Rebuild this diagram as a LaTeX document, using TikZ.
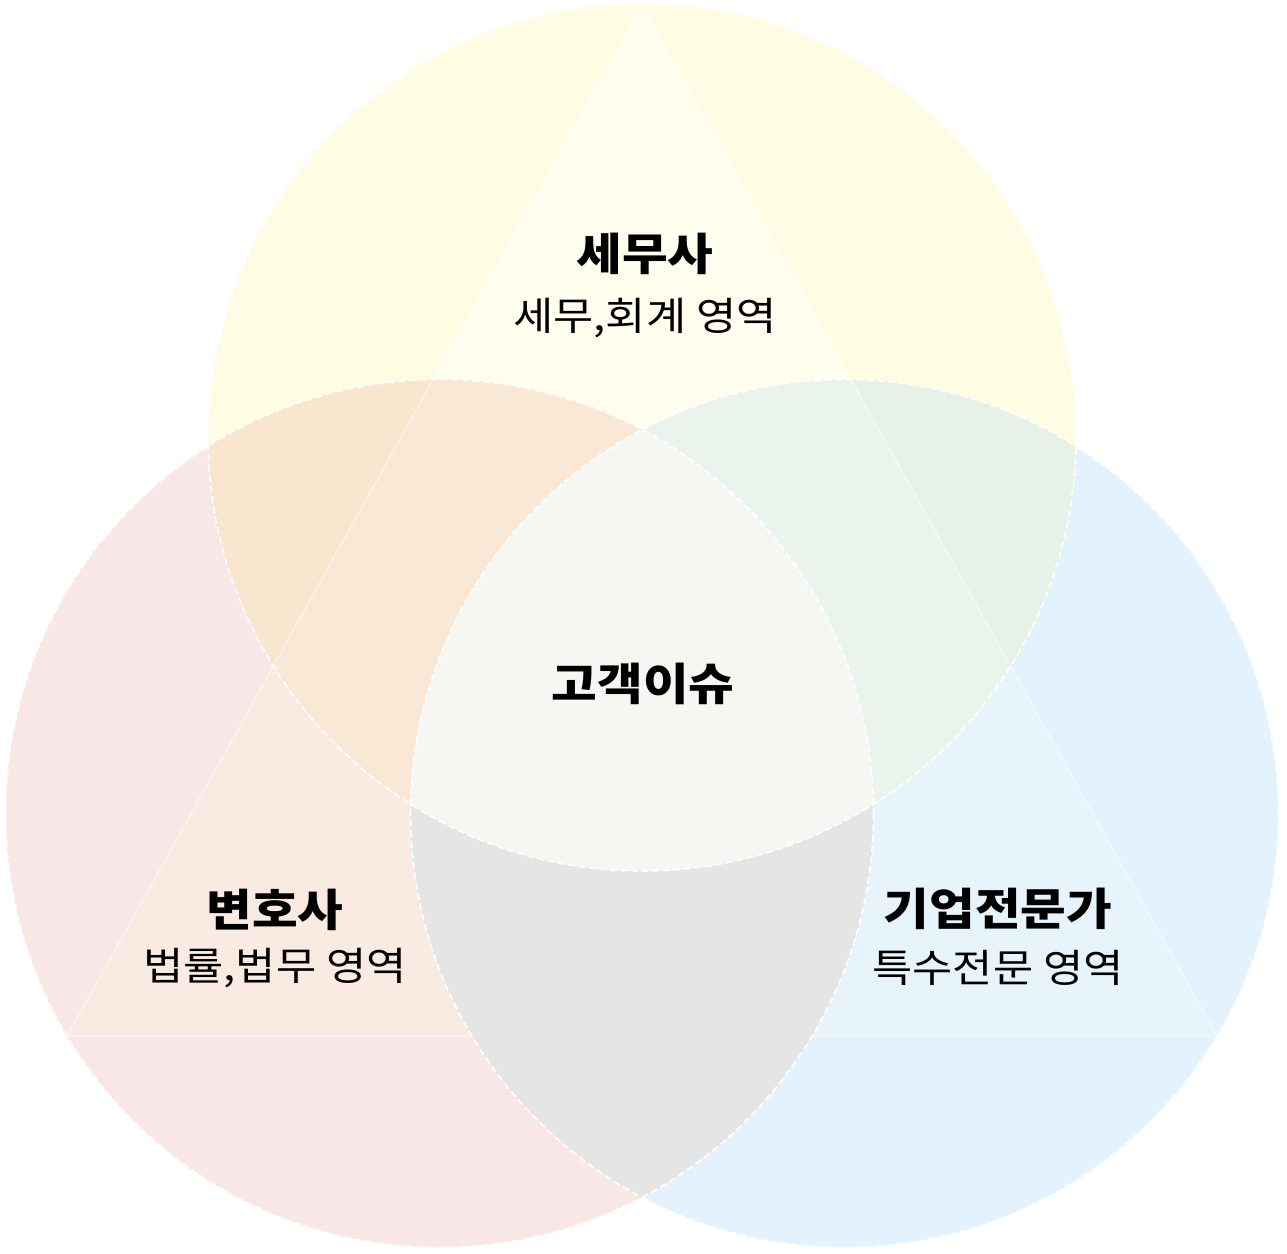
\documentclass[tikz,border=0pt]{standalone}
\usepackage{fontspec}
\setmainfont{Noto Sans CJK KR}[FakeStretch=1.12]
\definecolor{taxcol}{HTML}{FEFCE2}
\definecolor{lawcol}{HTML}{F9E6E6}
\definecolor{bizcol}{HTML}{E3F2FC}
\definecolor{taxlaw}{HTML}{F8E6CF}
\definecolor{taxbiz}{HTML}{E6F2E7}
\definecolor{taxtri}{HTML}{FEFDEE}
\definecolor{lawtri}{HTML}{FAEBE2}
\definecolor{biztri}{HTML}{E8F4FC}
\definecolor{taxlawtri}{HTML}{F9E8D5}
\definecolor{taxbiztri}{HTML}{EAF4EC}
\definecolor{lawbiz}{HTML}{E5E5E5}
\definecolor{corecol}{HTML}{F6F7F2}
\newcommand\venncols[5]{%
    \fill[#1] (T) circle (\rad);
    \fill[#2] (L) circle (\rad);
    \fill[#3] (R) circle (\rad);
    \begin{scope}
        \clip (T) circle (\rad);
        \fill[#4] (L) circle (\rad);
        \fill[#5] (R) circle (\rad);
    \end{scope}}
\tikzset{
  ring/.style={draw=white, line width=0.45pt, dash pattern=on 2pt off 1pt},
  headtext/.style={font=\bfseries\fontsize{12.6}{14}\selectfont, inner sep=0pt},
  areatext/.style={font=\fontsize{11.1}{13}\selectfont, inner sep=0pt}
}
\begin{document}
\begin{tikzpicture}[x=0.01cm,y=-0.01cm]
    \useasboundingbox (0,0) rectangle (1287,1254);
    \def\rad{434}
    \coordinate (T) at (642,437);
    \coordinate (L) at (439.5,813.5);
    \coordinate (R) at (844.5,813.5);
    \coordinate (A) at (642,5);
    \coordinate (B) at (67,1036);
    \coordinate (C) at (1217,1036);
    % three circles
    \venncols{taxcol}{lawcol}{bizcol}{taxlaw}{taxbiz}
    % lighter triangle
    \begin{scope}
        \clip (A) -- (B) -- (C) -- cycle;
        \venncols{taxtri}{lawtri}{biztri}{taxlawtri}{taxbiztri}
    \end{scope}
    \draw[white,opacity=0.6,line width=0.3pt] (A) -- (B) -- (C) -- cycle;
    \begin{scope}
        \clip (L) circle (\rad);
        \fill[lawbiz] (R) circle (\rad);
        \clip (R) circle (\rad);
        \fill[corecol] (T) circle (\rad);
    \end{scope}
    \draw[ring] (T) circle (\rad);
    \draw[ring] (L) circle (\rad);
    \draw[ring] (R) circle (\rad);
    % labels
    \node[headtext] (tax) at (645,254) {세무사};
    \node[areatext] (taxarea) at (645,318) {세무,회계 영역};
    \node[headtext] (core) at (643,684) {고객이슈};
    \node[headtext] (law) at (275,910) {변호사};
    \node[areatext] (lawarea) at (275,968) {법률,법무 영역};
    \node[headtext] (biz) at (998,909) {기업전문가};
    \node[areatext] (bizarea) at (998,968) {특수전문 영역};
\end{tikzpicture}
\end{document}
